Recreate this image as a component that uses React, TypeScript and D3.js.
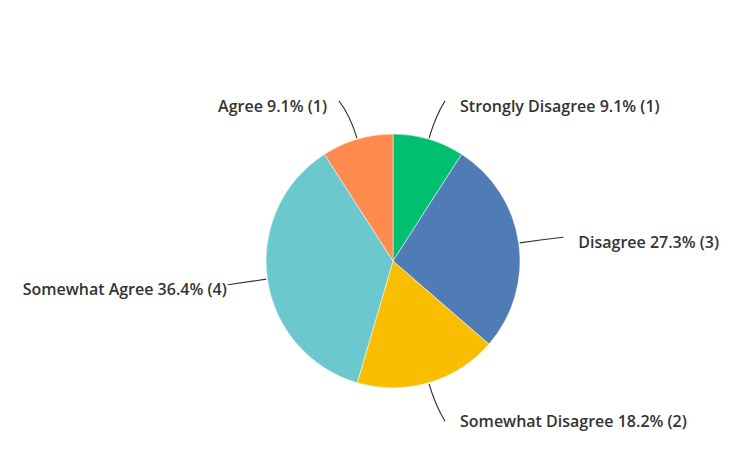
import React from "react";
import * as d3 from "d3";

const categories = ["Strongly Disagree", "Disagree", "Somewhat Disagree", "Somewhat Agree", "Agree"];
const counts = [1, 3, 2, 4, 1];
const percents = ["9.1%", "27.3%", "18.2%", "36.4%", "9.1%"];
const colors = ["#00BF6F", "#507CB6", "#F9BE00", "#6BC8CD", "#FF8B4F"];
// label layout tweaks (gap between line end and text, horizontal nudge of line end)
const labelGaps = [15, 15, 15, 1, 12];
const lineNudge = [5, 5, 5, 0, -7];
const textDy = [7, 6, 1, 6, 7];

const W = 754;
const H = 463;
const cx = 393;
const cy = 261;
const R = 127;

export default function App() {
  const pie = d3.pie<number>().sort(null).value((d) => d);
  const arcs = pie(counts);
  const arc = d3.arc<d3.PieArcDatum<number>>().innerRadius(0).outerRadius(R);
  const pt = (a: number, r: number) => [Math.sin(a) * r, -Math.cos(a) * r];

  return (
    <div style={{ position: "fixed", left: 0, top: 0, width: W, height: H, background: "#fff" }}>
      <svg width={W} height={H} style={{ display: "block" }}>
        <g transform={`translate(${cx},${cy})`}>
          {arcs.map((a, i) => (
            <path key={i} d={arc(a) || ""} fill={colors[i]} stroke="#fff" strokeWidth={0.5} />
          ))}
          {arcs.map((a, i) => {
            const mid = (a.startAngle + a.endAngle) / 2;
            const [x0, y0] = pt(mid, R + 1);
            const [xc, yc] = pt(mid, R + 24);
            const [xe0, ye] = pt(mid, R + 40);
            const xe = xe0 + lineNudge[i];
            const right = Math.sin(mid) > 0;
            const tx = right ? xe + labelGaps[i] : xe - labelGaps[i];
            const path = d3.path();
            path.moveTo(x0, y0);
            path.quadraticCurveTo(xc, yc, xe, ye);
            return (
              <g key={"l" + i}>
                <path d={path.toString()} fill="none" stroke="#333" strokeWidth={1.2} />
                <text
                  x={tx}
                  y={ye + textDy[i]}
                  textAnchor={right ? "start" : "end"}
                  dominantBaseline="middle"
                  fontFamily="'Open Sans', sans-serif"
                  fontWeight={600}
                  fontSize={16}
                  fill="#333"
                >
                  {`${categories[i]} ${percents[i]} (${counts[i]})`}
                </text>
              </g>
            );
          })}
        </g>
      </svg>
    </div>
  );
}
